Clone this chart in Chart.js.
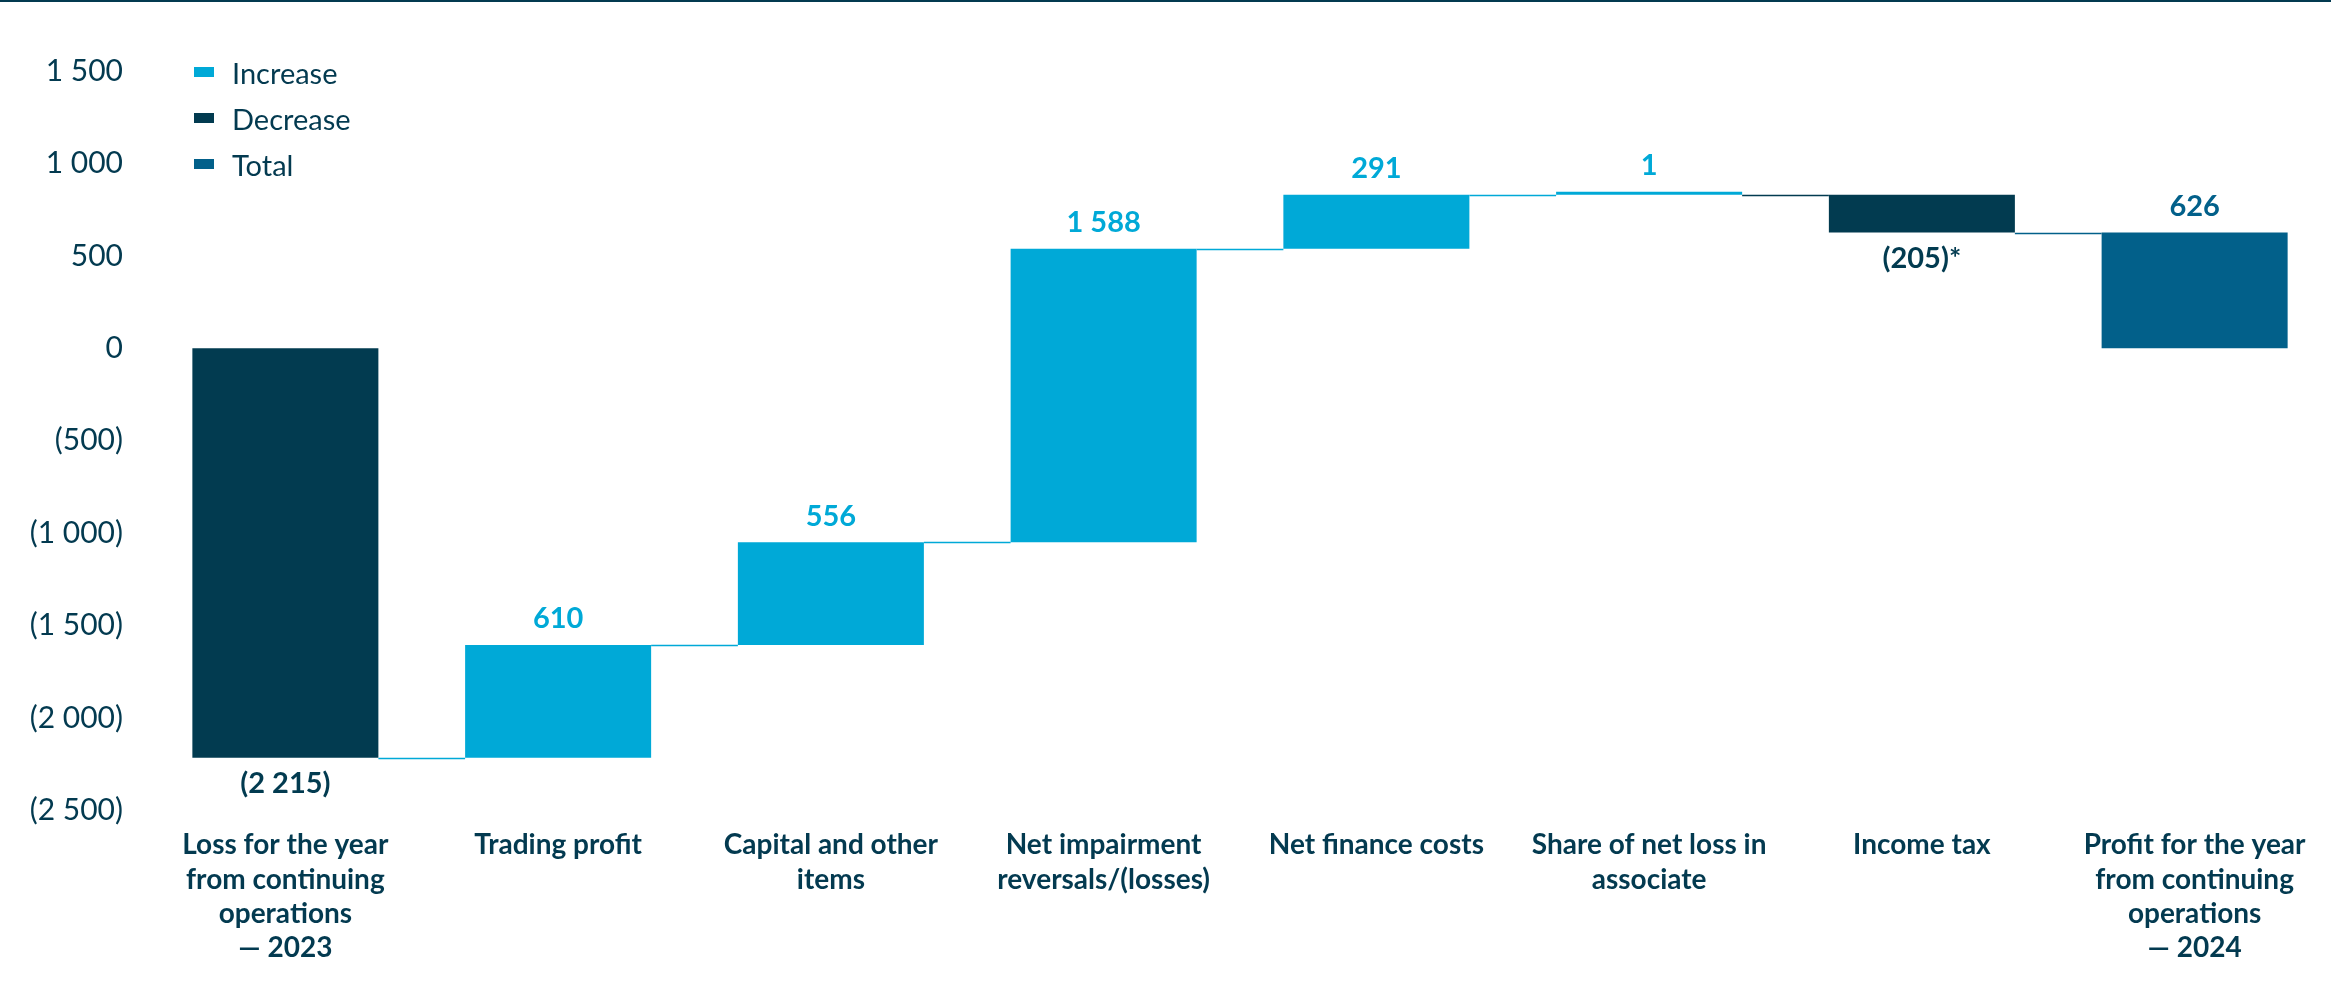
<!DOCTYPE html>
<html>
<head>
<meta charset="utf-8">
<script src="https://cdn.jsdelivr.net/npm/chart.js@4.4.1/dist/chart.umd.min.js"></script>
<style>
html, body { margin: 0; padding: 0; background: #fff; }
#wrap { position: relative; width: 2331px; height: 989px; }
#topline { position: absolute; left: 0; top: 0; width: 2331px; height: 2px; background: #033a50; }
#legend { position: absolute; left: 194px; top: 49px; font-family: Lato, sans-serif; font-size: 29px; color: #033a50; }
#legend .item { display: flex; align-items: center; height: 46px; }
#legend .sw { width: 20px; height: 10px; margin-right: 18px; }
</style>
</head>
<body>
<div id="wrap">
  <canvas id="myChart" width="2331" height="989"></canvas>
  <div id="topline"></div>
  <div id="legend"></div>
</div>
<script>
'use strict';

const categories = [
    ['Loss for the year', 'from continuing', 'operations', '\u2014 2023'],
    'Trading profit',
    ['Capital and other', 'items'],
    ['Net impairment', 'reversals/(losses)'],
    'Net finance costs',
    ['Share of net loss in', 'associate'],
    'Income tax',
    ['Profit for the year', 'from continuing', 'operations', '\u2014 2024'],
];
// R million, first and last are the year totals, the rest are steps
const amounts = [-2215, 610, 556, 1588, 291, 1, -205, 626];
const barKinds = ['start', 'step', 'step', 'step', 'step', 'step', 'step', 'total'];
const notes = ['', '', '', '', '', '', '*', ''];
const yTicks = [1500, 1000, 500, 0, -500, -1000, -1500, -2000, -2500];

const COLOR_INC = '#00a9d7';
const COLOR_DEC = '#023b50';
const COLOR_TOT = '#02608a';
const TEXT = '#033a50';

function fmt(v){
    var s = Math.abs(v).toString().replace(/\B(?=(\d{3})+(?!\d))/g, ' ');
    return v < 0 ? '(' + s + ')' : s;
}

// floating ranges for the waterfall
var run = 0;
const ranges = amounts.map(function(v, i){
    if( barKinds[i] === 'start' ){ run = v; return [0, v]; }
    if( barKinds[i] === 'total' ) return [0, v];
    var r = [run, run + v];
    run += v;
    return r;
});
const levels = ranges.map(r => r[1]);

const incData = ranges.map((r, i) => barKinds[i] === 'step' && amounts[i] > 0 ? r : null);
const decData = ranges.map((r, i) => (barKinds[i] === 'start' || (barKinds[i] === 'step' && amounts[i] < 0)) ? r : null);
const totData = ranges.map((r, i) => barKinds[i] === 'total' ? r : null);

const legendItems = [['Increase', COLOR_INC], ['Decrease', COLOR_DEC], ['Total', COLOR_TOT]];
document.getElementById('legend').innerHTML = legendItems.map(it =>
    '<div class="item"><span class="sw" style="background:' + it[1] + '"></span>' + it[0] + '</div>').join('');

function barColorAt(chart, i){
    for( var d = 0 ; d < chart.data.datasets.length ; d++ )
        if( chart.data.datasets[d].data[i] != null ) return chart.data.datasets[d].backgroundColor;
    return TEXT;
}
function barAt(chart, i){
    for( var d = 0 ; d < chart.data.datasets.length ; d++ )
        if( chart.data.datasets[d].data[i] != null ) return chart.getDatasetMeta(d).data[i];
    return null;
}

const connectors = {
    id: 'connectors',
    beforeDatasetsDraw(chart){
        const ctx = chart.ctx;
        const y = chart.scales.y;
        ctx.save();
        ctx.lineWidth = 1.5;
        for( var i = 0 ; i < levels.length - 1 ; i++ ){
            var a = barAt(chart, i), b = barAt(chart, i + 1);
            var py = Math.round(y.getPixelForValue(levels[i])) + 0.5;
            ctx.strokeStyle = barColorAt(chart, i + 1);
            ctx.beginPath();
            ctx.moveTo(a.x + a.width / 2, py);
            ctx.lineTo(b.x - b.width / 2, py);
            ctx.stroke();
        }
        ctx.restore();
    }
};

const valueLabels = {
    id: 'valueLabels',
    afterDatasetsDraw(chart){
        const ctx = chart.ctx;
        ctx.save();
        ctx.font = 'bold 29px Lato';
        ctx.textAlign = 'center';
        ctx.textBaseline = 'middle';
        chart.data.datasets.forEach(function(ds, d){
            chart.getDatasetMeta(d).data.forEach(function(bar, i){
                if( ds.data[i] == null ) return;
                var v = amounts[i];
                var top = Math.min(bar.y, bar.base), bottom = Math.max(bar.y, bar.base);
                ctx.fillStyle = ds.labelColor;
                if( v >= 0 )
                    ctx.fillText(fmt(v) + notes[i], bar.x, top - 26);
                else
                    ctx.fillText(fmt(v) + notes[i], bar.x, bottom + 26);
            });
        });
        ctx.restore();
    }
};

const ctx = document.getElementById('myChart');
var myChart = new Chart(ctx, {
    type: 'bar',
    data: {
        labels: categories,
        datasets: [
            { label: 'Increase', data: incData, backgroundColor: COLOR_INC, labelColor: COLOR_INC, minBarLength: 3 },
            { label: 'Decrease', data: decData, backgroundColor: COLOR_DEC, labelColor: COLOR_DEC },
            { label: 'Total', data: totData, backgroundColor: COLOR_TOT, labelColor: COLOR_TOT },
        ]
    },
    options: {
        responsive: false,
        animation: false,
        grouped: false,
        categoryPercentage: 1,
        barPercentage: 0.682,
        layout: { padding: { top: 71, right: 0, bottom: 6, left: 0 } },
        plugins: {
            legend: { display: false },
            tooltip: { enabled: false },
        },
        scales: {
            x: {
                grid: { display: false, drawTicks: false },
                border: { display: false },
                ticks: {
                    color: TEXT,
                    font: { family: 'Lato', size: 28, weight: 'bold', lineHeight: 1.22 },
                    padding: 18,
                    maxRotation: 0,
                    autoSkip: false,
                },
            },
            y: {
                min: -2500,
                max: 1500,
                afterBuildTicks: function(scale){ scale.ticks = yTicks.map(v => ({ value: v })); },
                afterFit: function(scale){ scale.width = 149; },
                grid: { display: false, drawTicks: false },
                border: { display: false },
                ticks: {
                    color: TEXT,
                    font: { family: 'Lato', size: 30 },
                    padding: 26,
                    callback: v => fmt(v),
                },
            },
        },
    },
    plugins: [connectors, valueLabels],
});
</script>
</body>
</html>
